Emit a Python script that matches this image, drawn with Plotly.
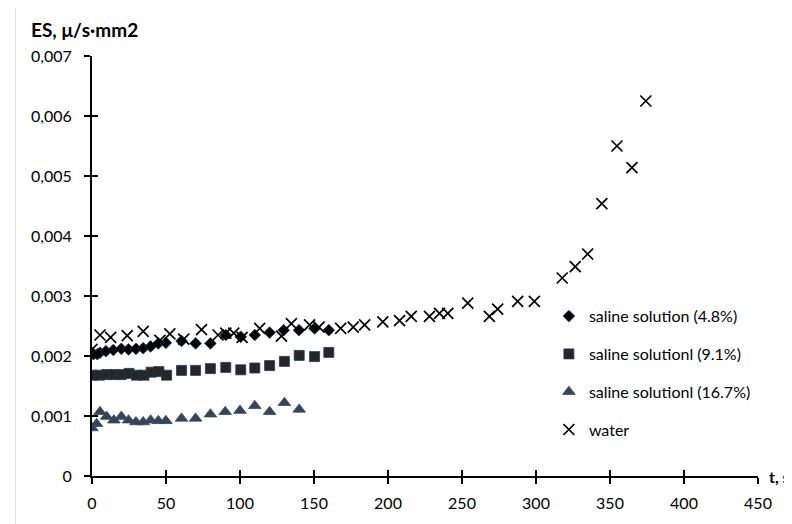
import plotly.graph_objects as go

# ---- data ----
t_48 = [0, 1, 3.6, 5.4, 9.4, 14.4, 19.8, 24.7, 29.7, 34.6, 39.6, 44.8, 49.9, 60.5, 70, 80, 90.4, 100.5, 110, 120, 129.5, 139.9, 150.4, 160]
es_48 = [0.00205, 0.00203, 0.00203, 0.002055, 0.00208, 0.0021, 0.00212, 0.00211, 0.00212, 0.00213, 0.00216, 0.00221, 0.00222, 0.00225, 0.00221, 0.00221, 0.00235, 0.00232, 0.00235, 0.00239, 0.00243, 0.00243, 0.00246, 0.00243]

t_91 = [0, 5, 9.9, 14.8, 19.8, 25, 30.1, 35.1, 40, 45.2, 50.4, 60.5, 70, 80, 90.4, 100.5, 110, 120, 130, 140, 150.4, 160]
es_91 = [0.00168, 0.00168, 0.00169, 0.00169, 0.00169, 0.00171, 0.00168, 0.00168, 0.00173, 0.00174, 0.00168, 0.00176, 0.00176, 0.00179, 0.00181, 0.00177, 0.0018, 0.00184, 0.00191, 0.00201, 0.00199, 0.00206]

t_167 = [0, 3.1, 5.4, 9.9, 14.8, 19.8, 24.7, 29.7, 34.6, 39.6, 44.8, 49.9, 60.5, 70, 80, 90, 100, 110, 120, 130, 140]
es_167 = [0.0008, 0.00087, 0.00107, 0.00099, 0.00093, 0.00099, 0.00093, 0.0009, 0.0009, 0.00093, 0.00092, 0.00092, 0.00096, 0.00096, 0.00103, 0.00107, 0.00109, 0.00117, 0.00107, 0.00122, 0.00111]

t_water = [0, 5.4, 12.6, 23.8, 34.6, 45.9, 52.6, 62, 74, 85.2, 90.4, 95.8, 101.4, 113.3, 128, 134.7, 147, 153.4, 168, 176.5,
           184.2, 196.5, 207.8, 215.7, 228, 234.8, 240.4, 253.9, 268.5, 274.1, 287.6, 298.9, 317.7, 326.5, 334.9, 344.5, 354.7, 364.8, 374.2]
es_water = [0.00211, 0.00235, 0.00231, 0.00234, 0.00241, 0.00226, 0.00237, 0.00228, 0.00244, 0.00235, 0.00238, 0.00238, 0.00231, 0.00246, 0.00233, 0.00254, 0.00252, 0.00248, 0.00246, 0.00248,
            0.00252, 0.00257, 0.00259, 0.00266, 0.00266, 0.00271, 0.00271, 0.00288, 0.00266, 0.00278, 0.00291, 0.00291, 0.0033, 0.00349, 0.0037, 0.00454, 0.0055, 0.00514, 0.00625]

names = ["saline solution (4.8%)", "saline solutionl (9.1%)", "saline solutionl (16.7%)", "water"]

y_ticks = [0, 0.001, 0.002, 0.003, 0.004, 0.005, 0.006, 0.007]
y_ticktext = ["0", "0,001", "0,002", "0,003", "0,004", "0,005", "0,006", "0,007"]
x_ticks = [0, 50, 100, 150, 200, 250, 300, 350, 400, 450]

FONT = "Lato"

fig = go.Figure()
fig.add_trace(go.Scatter(x=t_48, y=es_48, mode="markers", name=names[0], legendgroup="a",
                         marker=dict(symbol="diamond", size=9, color="#000000", line=dict(color="#1f3864", width=0.8))))
fig.add_trace(go.Scatter(x=t_91, y=es_91, mode="markers", name=names[1], legendgroup="b",
                         marker=dict(symbol="square", size=10, color="#262626", line=dict(color="#1f3864", width=0.8))))
fig.add_trace(go.Scatter(x=t_167, y=es_167, mode="markers", name=names[2], legendgroup="c",
                         marker=dict(symbol="triangle-up", size=11, color="#3b4350", line=dict(color="#2f4a6e", width=0.8))))
fig.add_trace(go.Scatter(x=t_water, y=es_water, mode="markers", name=names[3], legendgroup="d",
                         marker=dict(symbol="x-thin", size=11, color="#000000", line=dict(color="#000000", width=1.7))))

axis_common = dict(showgrid=False, zeroline=False, showline=True, linecolor="black", linewidth=2,
                   ticks="outside", ticklen=6, tickwidth=1.5, tickcolor="black")

# page body has an 8px margin; figure is sized/offset to compensate
fig.update_layout(
    width=784, height=516,
    margin=dict(l=84, r=34, t=48, b=48),
    paper_bgcolor="white", plot_bgcolor="white",
    font=dict(family=FONT, size=16, color="black"),
    showlegend=True,
    legend=dict(x=0.686, y=0.421, xanchor="left", yanchor="top", font=dict(size=16, family=FONT),
                tracegroupgap=14, itemwidth=30, bgcolor="rgba(0,0,0,0)"),
    xaxis=dict(range=[0, 450], tickvals=x_ticks, ticktext=[str(v) for v in x_ticks],
               tickfont=dict(size=16), ticklabelstandoff=6, **axis_common),
    yaxis=dict(range=[0, 0.007], tickvals=y_ticks, ticktext=y_ticktext,
               tickfont=dict(size=16), ticklabelstandoff=9, **axis_common),
    xaxis2=dict(range=[0, 450], overlaying="x", tickvals=x_ticks, showticklabels=False, showgrid=False,
                zeroline=False, showline=False, ticks="inside", ticklen=6, tickwidth=1.5, tickcolor="black",
                anchor="y"),
    yaxis2=dict(range=[0, 0.007], overlaying="y", tickvals=y_ticks, showticklabels=False, showgrid=False,
                zeroline=False, showline=False, ticks="inside", ticklen=6, tickwidth=1.5, tickcolor="black",
                anchor="x"),
)
# invisible trace to activate overlay axes (cross ticks)
fig.add_trace(go.Scatter(x=[None], y=[None], xaxis="x2", yaxis="y2", showlegend=False, hoverinfo="skip"))

fig.add_annotation(text="<b>ES, μ/s·mm2</b>", xref="paper", yref="paper", x=-0.094, y=1.062,
                   xanchor="left", yanchor="middle", showarrow=False, font=dict(size=19, family=FONT))
fig.add_annotation(text="<b>t, s</b>", xref="paper", yref="paper", x=1.013, y=0.0,
                   xanchor="left", yanchor="middle", showarrow=False, font=dict(size=16, family=FONT))
fig.add_shape(type="line", xref="paper", yref="paper", x0=-0.115, x1=-0.115, y0=-0.12, y1=1.12,
              line=dict(color="#e0e0e0", width=1))

fig.write_html("out.html")
